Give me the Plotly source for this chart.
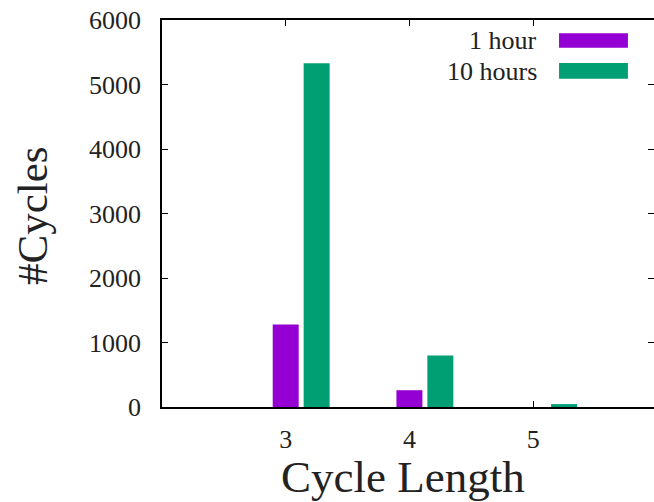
import plotly.graph_objects as go

# Data
cycle_lengths = [3, 4, 5]
series_names = ["1 hour", "10 hours"]
cycles_1h = [1280, 260, 0]
cycles_10h = [5330, 800, 45]
y_ticks = [0, 1000, 2000, 3000, 4000, 5000, 6000]
x_title = "Cycle Length"
y_title = "#Cycles"

colors = ["#9400D3", "#009E73"]
FONT = "Liberation Serif"
TXT = "#222"

fig = go.Figure()
for name, vals, col, off in zip(series_names, [cycles_1h, cycles_10h], colors, [-0.105, 0.145]):
    fig.add_trace(go.Bar(
        x=cycle_lengths, y=vals, name=name,
        marker=dict(color=col, line=dict(width=0)),
        width=0.21, offset=off, showlegend=False,
    ))

# dummy trace for right-side ticks
fig.add_trace(go.Scatter(x=[None], y=[None], yaxis="y2", showlegend=False))

fig.update_layout(
    width=654, height=502,
    margin=dict(l=162, r=0, t=20, b=95),
    plot_bgcolor="white", paper_bgcolor="white",
    barmode="overlay",
    font=dict(family=FONT, color=TXT),
    xaxis=dict(
        range=[2, 5.977], tickvals=cycle_lengths, ticktext=[str(c) for c in cycle_lengths],
        showline=True, linecolor="black", linewidth=1.5, mirror="ticks",
        ticks="inside", ticklen=6, tickcolor="black", tickwidth=1,
        showgrid=False, zeroline=False, layer="below traces",
        tickfont=dict(size=26, family=FONT, color=TXT),
        ticklabelstandoff=8, automargin=False,
    ),
    yaxis=dict(
        range=[0, 6000], tickvals=y_ticks,
        showline=True, linecolor="black", linewidth=1.5,
        ticks="inside", ticklen=6, tickcolor="black", tickwidth=1,
        showgrid=False, zeroline=False,
        tickfont=dict(size=26, family=FONT, color=TXT),
        ticklabelstandoff=14, automargin=False,
    ),
    yaxis2=dict(
        range=[0, 6000], tickvals=y_ticks, overlaying="y", side="right",
        showline=False, ticks="inside", ticklen=6, tickcolor="black",
        showticklabels=False, showgrid=False, zeroline=False, automargin=False,
    ),
)

# Axis titles
fig.add_annotation(x=(403 - 162) / 492, y=-(477 - 407) / 387, xref="paper", yref="paper",
                   text=x_title, showarrow=False, xanchor="center", yanchor="middle",
                   font=dict(size=45, family=FONT, color=TXT))
fig.add_annotation(x=-(162 - 32) / 492, y=(407 - 216) / 387, xref="paper", yref="paper",
                   text=y_title, showarrow=False, xanchor="center", yanchor="middle", textangle=-90,
                   font=dict(size=43, family=FONT, color=TXT))

# Manual legend (text right-aligned, swatch to the right)
row_y_text = [0.947, 0.868]
row_y_sw = [(0.928, 0.966), (0.848, 0.889)]
for name, col, ty, (y0, y1) in zip(series_names, colors, row_y_text, row_y_sw):
    fig.add_annotation(
        x=0.766, y=ty, xref="paper", yref="paper", text=name, showarrow=False,
        xanchor="right", yanchor="middle", font=dict(size=26, family=FONT, color=TXT),
    )
    fig.add_shape(
        type="rect", xref="paper", yref="paper", x0=0.807, x1=0.947, y0=y0, y1=y1,
        fillcolor=col, line=dict(width=0),
    )

fig.write_html("out.html", config={"displayModeBar": False},
               post_script="document.body.style.margin='0';")
